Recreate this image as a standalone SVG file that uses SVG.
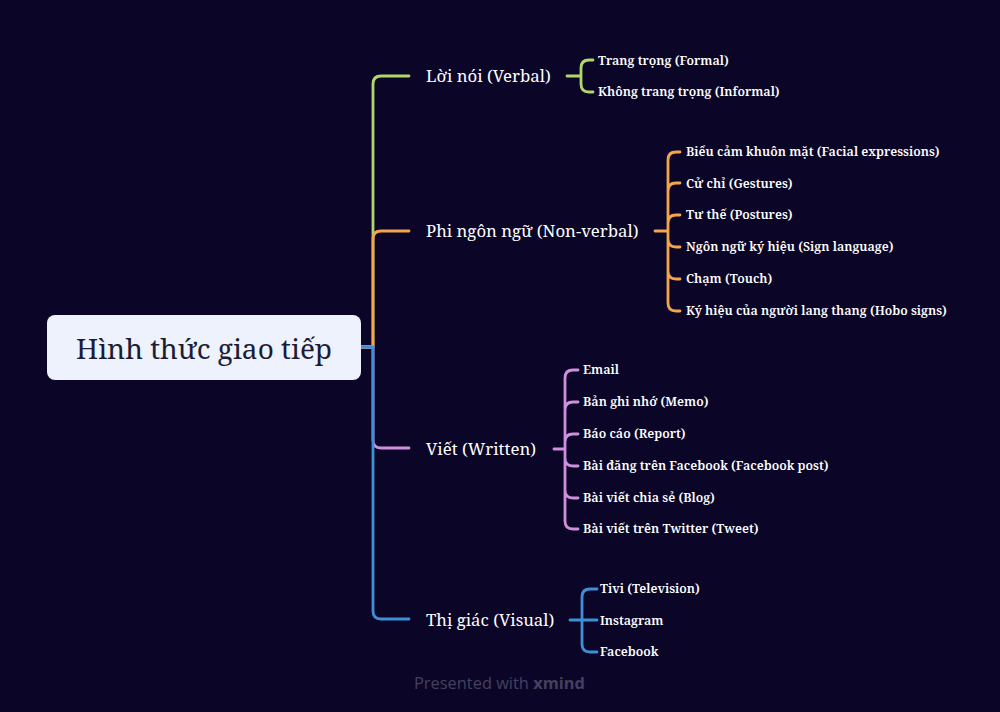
<svg xmlns="http://www.w3.org/2000/svg" width="1000" height="712" viewBox="0 0 1000 712">
<style>
.bg{fill:#0b0627}
.c{fill:none;stroke-width:2.8;stroke-linecap:round;stroke-linejoin:round}
.g{stroke:#b3d66b}.o{stroke:#f2a54a}.p{stroke:#cf8fdc}.b{stroke:#3f8fd6}
.root{font-family:"Noto Serif","DejaVu Serif","Liberation Serif",serif;font-size:28px;fill:#1c1c36}
.main{font-family:"Noto Serif","DejaVu Serif","Liberation Serif",serif;font-size:16.8px;fill:#ffffff}
.sub{font-family:"Noto Serif","DejaVu Serif","Liberation Serif",serif;font-size:12.5px;font-weight:600;fill:#ffffff}
.wm{font-family:"Open Sans","Liberation Sans",sans-serif;font-size:16.4px;fill:#45405f}
</style>
<rect class="bg" x="0" y="0" width="1000" height="712"/>
<g id="connectors">
<path class="c g" d="M361,347 H373 V84 Q373,76 381,76 H409"/>
<path class="c o" d="M361,347 H373 V239 Q373,231 381,231 H409"/>
<path class="c p" d="M361,347 H373 V440 Q373,448 381,448 H409"/>
<path class="c b" d="M361,347 H373 V611 Q373,619 381,619 H409"/>
<path class="c g" d="M567,76 H581 M593,60 H589 Q581,60 581,68 V84 Q581,92 589,92 H593"/>
<path class="c o" d="M655,231 H668 M680,152 H676 Q668,152 668,160 V303 Q668,311 676,311 H680 M668,191 Q668,183 676,183 H680 M668,223 Q668,215 676,215 H680 M668,239 Q668,247 676,247 H680 M668,271 Q668,279 676,279 H680"/>
<path class="c p" d="M554,449 H565 M578,370 H573 Q565,370 565,378 V521 Q565,529 573,529 H578 M565,410 Q565,402 573,402 H578 M565,442 Q565,434 573,434 H578 M565,458 Q565,466 573,466 H578 M565,490 Q565,498 573,498 H578"/>
<path class="c b" d="M570,620 H597 M597,589 H590 Q582,589 582,597 V644 Q582,652 590,652 H597"/>
</g>
<g id="root">
<rect x="47" y="315" width="314" height="65" rx="8" fill="#edf2fc"/>
<text class="root" x="204" y="359" text-anchor="middle">Hình thức giao tiếp</text>
</g>
<g id="verbal"><text class="main" x="426" y="82">Lời nói (Verbal)</text></g>
<g id="verbal-formal"><text class="sub" x="598" y="65">Trang trọng (Formal)</text></g>
<g id="verbal-informal"><text class="sub" x="598" y="96">Không trang trọng (Informal)</text></g>
<g id="nonverbal"><text class="main" x="426" y="237">Phi ngôn ngữ (Non-verbal)</text></g>
<g id="nv-1"><text class="sub" x="686" y="156">Biểu cảm khuôn mặt (Facial expressions)</text></g>
<g id="nv-2"><text class="sub" x="686" y="188">Cử chỉ (Gestures)</text></g>
<g id="nv-3"><text class="sub" x="686" y="219">Tư thế (Postures)</text></g>
<g id="nv-4"><text class="sub" x="686" y="251">Ngôn ngữ ký hiệu (Sign language)</text></g>
<g id="nv-5"><text class="sub" x="686" y="283">Chạm (Touch)</text></g>
<g id="nv-6"><text class="sub" x="686" y="315">Ký hiệu của người lang thang (Hobo signs)</text></g>
<g id="written"><text class="main" x="426" y="455">Viết (Written)</text></g>
<g id="w-1"><text class="sub" x="583" y="374">Email</text></g>
<g id="w-2"><text class="sub" x="583" y="406">Bản ghi nhớ (Memo)</text></g>
<g id="w-3"><text class="sub" x="583" y="438">Báo cáo (Report)</text></g>
<g id="w-4"><text class="sub" x="583" y="470">Bài đăng trên Facebook (Facebook post)</text></g>
<g id="w-5"><text class="sub" x="583" y="502">Bài viết chia sẻ (Blog)</text></g>
<g id="w-6"><text class="sub" x="583" y="533">Bài viết trên Twitter (Tweet)</text></g>
<g id="visual"><text class="main" x="426" y="626">Thị giác (Visual)</text></g>
<g id="v-1"><text class="sub" x="600" y="593">Tivi (Television)</text></g>
<g id="v-2"><text class="sub" x="600" y="625">Instagram</text></g>
<g id="v-3"><text class="sub" x="600" y="656">Facebook</text></g>
<text class="wm" x="414" y="689">Presented with <tspan font-weight="700">xmind</tspan></text>
</svg>
